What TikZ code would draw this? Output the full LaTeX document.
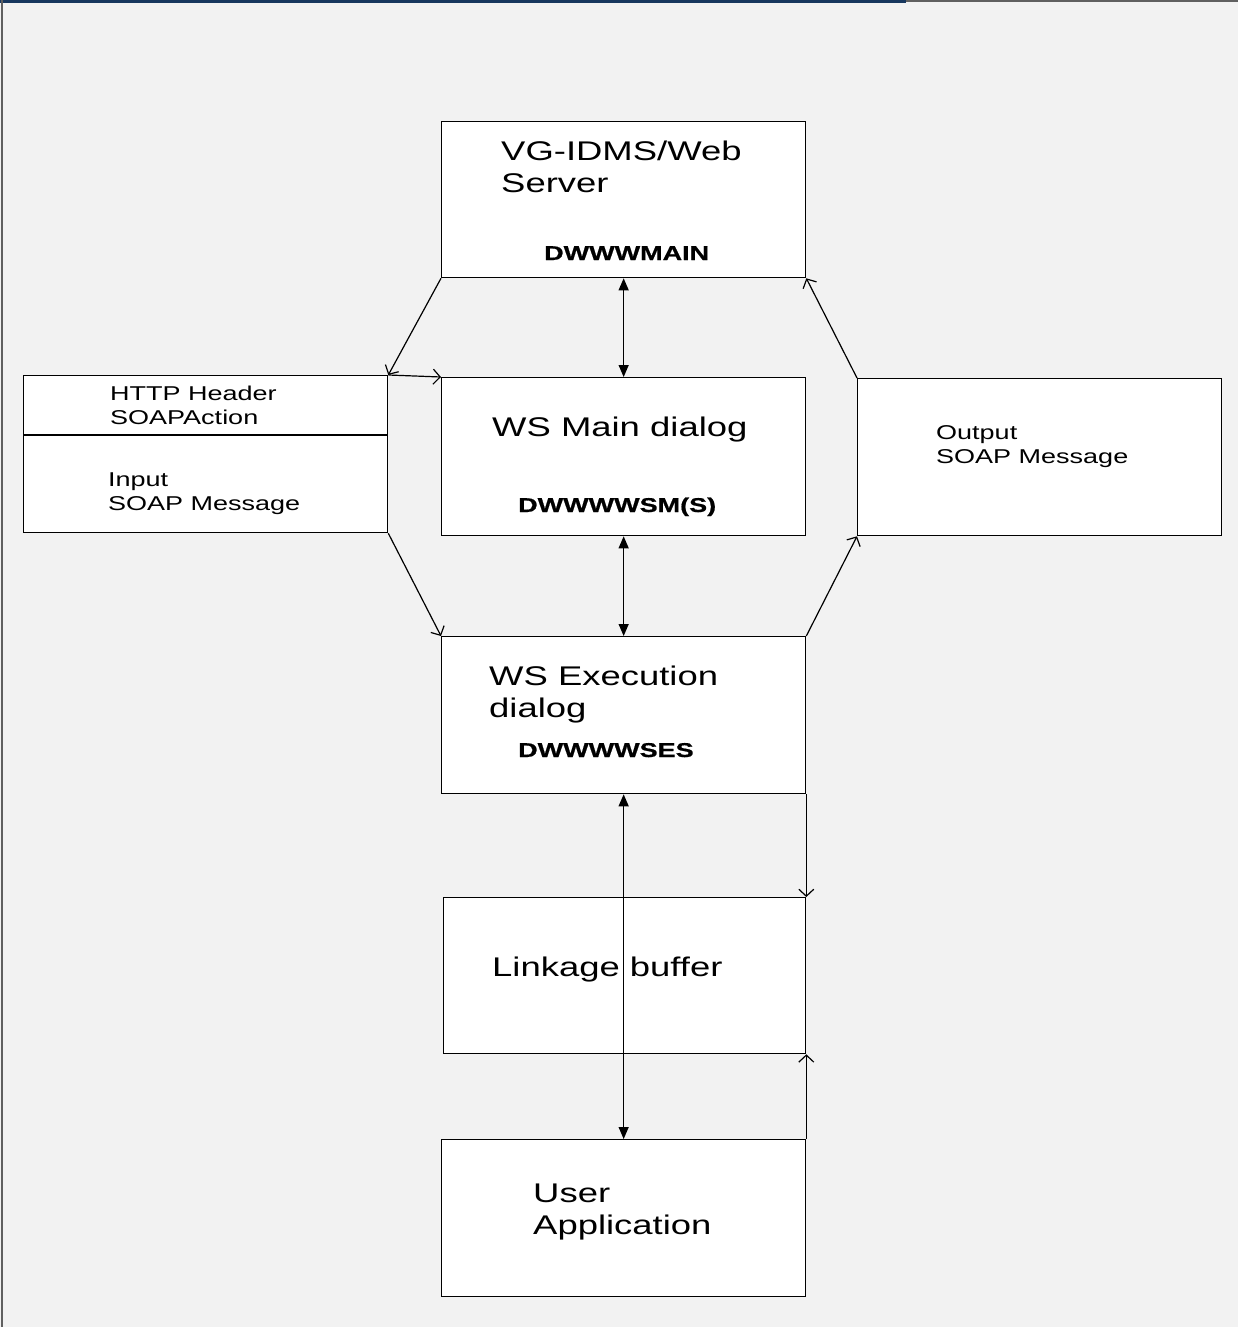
\documentclass[tikz,border=0pt]{standalone}
\usepackage{fontspec}
\setmainfont{Liberation Sans}
\newfontfamily\widefont[FakeStretch=1.35]{Liberation Sans}
\newfontfamily\widebold[FakeStretch=1.35,FakeBold=0.8]{Liberation Sans Bold}
\usetikzlibrary{arrows.meta}
\definecolor{bgc}{HTML}{F2F2F2}
\definecolor{topblue}{HTML}{17375E}
\definecolor{framegray}{HTML}{606060}
\tikzset{
  box/.style={draw=black, fill=white, line width=1.3pt, inner sep=0pt, anchor=north west},
  bigtxt/.style={anchor=base west, inner sep=0pt, font=\widefont\fontsize{27}{32}\selectfont},
  smalltxt/.style={anchor=base west, inner sep=0pt, font=\widefont\fontsize{20}{24}\selectfont},
  boldtxt/.style={anchor=base west, inner sep=0pt, font=\widebold\fontsize{20}{24}\selectfont},
  conn/.style={line width=1.2pt, -{Straight Barb[length=7pt,width=15pt]}},
  dconn/.style={line width=1.2pt, {Triangle[length=12pt,width=10pt]}-{Triangle[length=12pt,width=10pt]}}
}
\begin{document}
\begin{tikzpicture}[x=1pt,y=-1pt]
\useasboundingbox (0,0) rectangle (1238,1327);
\fill[bgc] (0,0) rectangle (1238,1327);
% frame lines
\draw[topblue, line width=3pt] (0,1.5) -- (906,1.5);
\draw[framegray, line width=1.2pt] (906,1) -- (1238,1);
\draw[framegray, line width=1.8pt] (1.8,0) -- (1.8,1327);

% boxes
\node[box, minimum width=364pt, minimum height=156pt] (vg) at (441,121) {};
\node[box, minimum width=364pt, minimum height=158pt] (main) at (441,377) {};
\node[box, minimum width=364pt, minimum height=157pt] (exec) at (441,636) {};
\node[box, minimum width=362pt, minimum height=156pt] (link) at (443,897) {};
\node[box, minimum width=364pt, minimum height=157pt] (user) at (441,1139) {};
\node[box, minimum width=364pt, minimum height=157pt] (left) at (23,375) {};
\node[box, minimum width=364pt, minimum height=157pt] (out) at (857,378) {};
\draw[line width=1.6pt] ([yshift=-60pt]left.north west) -- ([yshift=-60pt]left.north east);

% texts
\node[bigtxt] (t1) at (501,160) {VG-IDMS/Web};
\node[bigtxt] (t2) at (501,192) {Server};
\node[boldtxt] (t3) at (544,260) {DWWWMAIN};
\node[bigtxt] (t4) at (492,436) {WS Main dialog};
\node[boldtxt] (t5) at (518,512) {DWWWWSM(S)};
\node[bigtxt] (t6) at (489,685) {WS Execution};
\node[bigtxt] (t7) at (489,717) {dialog};
\node[boldtxt] (t8) at (518,757) {DWWWWSES};
\node[bigtxt] (t9) at (492,976) {Linkage buffer};
\node[bigtxt] (t10) at (533,1202) {User};
\node[bigtxt] (t11) at (533,1234) {Application};
\node[smalltxt] (t12) at (110,400) {HTTP Header};
\node[smalltxt] (t13) at (110,424) {SOAPAction};
\node[smalltxt] (t14) at (108,486) {Input};
\node[smalltxt] (t15) at (108,510) {SOAP Message};
\node[smalltxt] (t16) at (936,439) {Output};
\node[smalltxt] (t17) at (936,463) {SOAP Message};

% connectors
\draw[conn] (vg.south west) -- (left.north east);
\draw[conn] (left.north east) -- (main.north west);
\draw[conn] (left.south east) -- (exec.north west);
\draw[conn] (exec.north east) -- (out.south west);
\draw[conn] (out.north west) -- (vg.south east);
\draw[dconn] (vg.south) -- (main.north);
\draw[dconn] (main.south) -- (exec.north);
\draw[dconn] (exec.south) -- (user.north);
\draw[conn] (exec.south east) -- (link.north east);
\draw[conn] (user.north east) -- (link.south east);
\end{tikzpicture}
\end{document}
